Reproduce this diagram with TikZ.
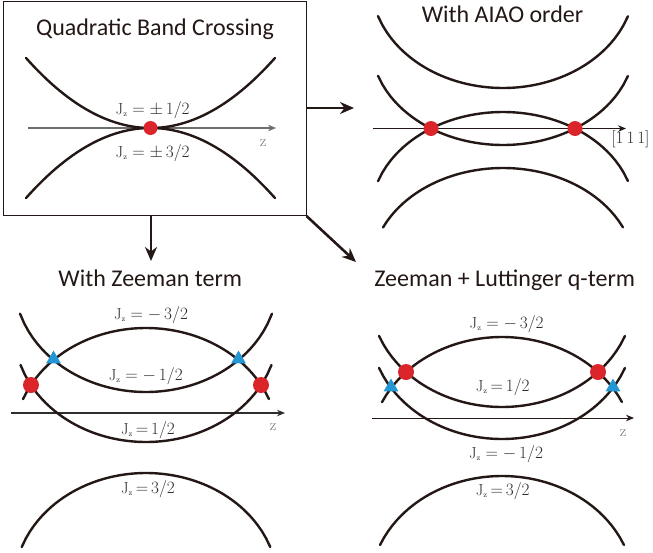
\documentclass[tikz,border=0pt]{standalone}
\usepackage{fontspec}
\newfontfamily\titlefont{Carlito}
\usetikzlibrary{arrows.meta,shapes.geometric}
\definecolor{ink}{RGB}{35,24,21}
\definecolor{lbl}{RGB}{45,45,45}
\definecolor{axgray}{RGB}{110,110,110}
\definecolor{dotred}{RGB}{218,37,43}
\definecolor{triblue}{RGB}{36,150,212}
\begin{document}
\begin{tikzpicture}[x=1pt,y=-1pt,
  band/.style={ink, line width=2.4pt, line cap=round},
  axisline/.style={ink, line width=1pt, -{Stealth[length=8pt,width=6.5pt]}},
  bigarrow/.style={ink, line width=2.6pt, -{Stealth[length=14pt,width=12pt]}},
  ttl/.style={font=\titlefont\fontsize{24}{27}\selectfont, text=ink, inner sep=0pt, anchor=base},
  lab/.style={font=\fontsize{16}{18}\selectfont, text=lbl, inner sep=0pt, anchor=base},
  dot/.style={circle, fill=dotred, minimum size=15pt, inner sep=0pt},
  tri/.style={regular polygon, regular polygon sides=3, fill=triblue, minimum size=17pt, inner sep=0pt},
  declare function={fe(\u)=111.7*(1-sqrt(1-(\u/1.32)^2)); ft(\u)=102*(1-sqrt(1-(\u/1.32)^2));}]
\useasboundingbox (0,0) rectangle (653,552);

% ---------- top-left panel ----------
\node[draw=ink, line width=1pt, minimum width=303pt, minimum height=214pt, inner sep=0pt] (box) at (154.5,108.5) {};
\node[ttl] (t1) at (155,35) {Quadratic Band Crossing};
\coordinate (ax1s) at (28,128);
\coordinate (ax1e) at (276,128);
\draw[axisline, draw=axgray, line width=1.3pt] (ax1s) -- (ax1e);
\draw[band] plot[domain=-1.245:1.245, samples=60] ({150.5+100*\x},{128-45.2*\x*\x});
\draw[band] plot[domain=-1.245:1.245, samples=60] ({150.5+100*\x},{128+45.2*\x*\x});
\node[dot, minimum size=14pt] (d0) at (150.5,128) {};
\node[lab] (l1) at (152.7,114) {$\mathrm{J}_{\scriptscriptstyle\mathrm{z}}=\pm\,1/2$};
\node[lab] (l2) at (152.7,157) {$\mathrm{J}_{\scriptscriptstyle\mathrm{z}}=\pm\,3/2$};
\node[lab, text=axgray] (z1) at (263,146) {z};

% ---------- arrows ----------
\coordinate (r1) at (354,108);
\coordinate (d1) at (151,261);
\coordinate (d2) at (356,262);
\draw[bigarrow] (box.east |- r1) -- (r1);
\draw[bigarrow] (box.south -| d1) -- (d1);
\draw[bigarrow] (box.south east) -- (d2);

% ---------- top-right panel ----------
\node[ttl] (t2) at (502.5,22) {With AIAO order};
\coordinate (ax2s) at (373,128.5);
\coordinate (ax2e) at (626,128.5);
\draw[axisline] (ax2s) -- (ax2e);
\draw[band] plot[domain=-1.25:1.25, samples=60] ({503+100*\x},{88-1.04*ft(\x)});
\draw[band] plot[domain=-1.25:1.25, samples=60] ({503+100*\x},{112+ft(\x)});
\draw[band] plot[domain=-1.25:1.25, samples=60] ({503+100*\x},{145-ft(\x)});
\draw[band] plot[domain=-1.2:1.2, samples=60] ({503+100*\x},{168+ft(\x)});
\node[dot] (d21) at (431,128.5) {};
\node[dot] (d22) at (575,128.5) {};
\node[lab] (l3) at (630.5,143) {$[1\,1\,1]$};

% ---------- bottom-left panel ----------
\node[ttl] (t3) at (150.3,286) {With Zeeman term};
\coordinate (ax3s) at (11,413);
\coordinate (ax3e) at (285,413);
\draw[axisline, draw=lbl, line width=1.2pt] (ax3s) -- (ax3e);
\draw[band] plot[domain=-1.26:1.26, samples=60] ({146+100*\x},{392-fe(\x)});
\draw[band] plot[domain=-1.23:1.23, samples=60] ({146+100*\x},{328+fe(\x)});
\draw[band] plot[domain=-1.255:1.255, samples=60] ({146+100*\x},{442-fe(\x)});
\draw[band] plot[domain=-1.243:1.243, samples=60] ({146+100*\x},{473+fe(\x)});
\node[dot, minimum size=16pt] (d31) at (31,385) {};
\node[dot, minimum size=16pt] (d32) at (261,385) {};
\node[tri] (tr31) at (53.5,359) {};
\node[tri] (tr32) at (238.5,359) {};
\node[lab] (l4) at (151,319) {$\mathrm{J}_{\scriptscriptstyle\mathrm{z}}=-\,3/2$};
\node[lab] (l5) at (145.8,380) {$\mathrm{J}_{\scriptscriptstyle\mathrm{z}}=-\,1/2$};
\node[lab] (l6) at (148,434) {$\mathrm{J}_{\scriptscriptstyle\mathrm{z}}\,{=}\,1/2$};
\node[lab] (l7) at (148,493) {$\mathrm{J}_{\scriptscriptstyle\mathrm{z}}\,{=}\,3/2$};
\node[lab, text=axgray] (z3) at (273,430) {z};

% ---------- bottom-right panel ----------
\node[ttl] (t4) at (504.7,286) {Zeeman + Luttinger q-term};
\coordinate (ax4s) at (372,418);
\coordinate (ax4e) at (634,418);
\draw[axisline] (ax4s) -- (ax4e);
\draw[band] plot[domain=-1.23:1.23, samples=60] ({502+100*\x},{407-fe(\x)});
\draw[band] plot[domain=-1.2:1.2, samples=60] ({502+100*\x},{337+fe(\x)});
\draw[band] plot[domain=-1.23:1.23, samples=60] ({502+100*\x},{439-fe(\x)});
\draw[band] plot[domain=-1.22:1.22, samples=60] ({502+100*\x},{476+fe(\x)});
\node[dot, minimum size=16pt] (d41) at (406,372) {};
\node[dot, minimum size=16pt] (d42) at (598,372) {};
\node[tri] (tr41) at (391,387) {};
\node[tri] (tr42) at (613,387) {};
\node[lab] (l8) at (506.7,328) {$\mathrm{J}_{\scriptscriptstyle\mathrm{z}}=-\,3/2$};
\node[lab] (l9) at (502.8,391) {$\mathrm{J}_{\scriptscriptstyle\mathrm{z}}\,{=}\,1/2$};
\node[lab] (l10) at (506,458) {$\mathrm{J}_{\scriptscriptstyle\mathrm{z}}=-\,1/2$};
\node[lab] (l11) at (502.8,495) {$\mathrm{J}_{\scriptscriptstyle\mathrm{z}}\,{=}\,3/2$};
\node[lab, text=axgray] (z4) at (623,436) {z};
\end{tikzpicture}
\end{document}
